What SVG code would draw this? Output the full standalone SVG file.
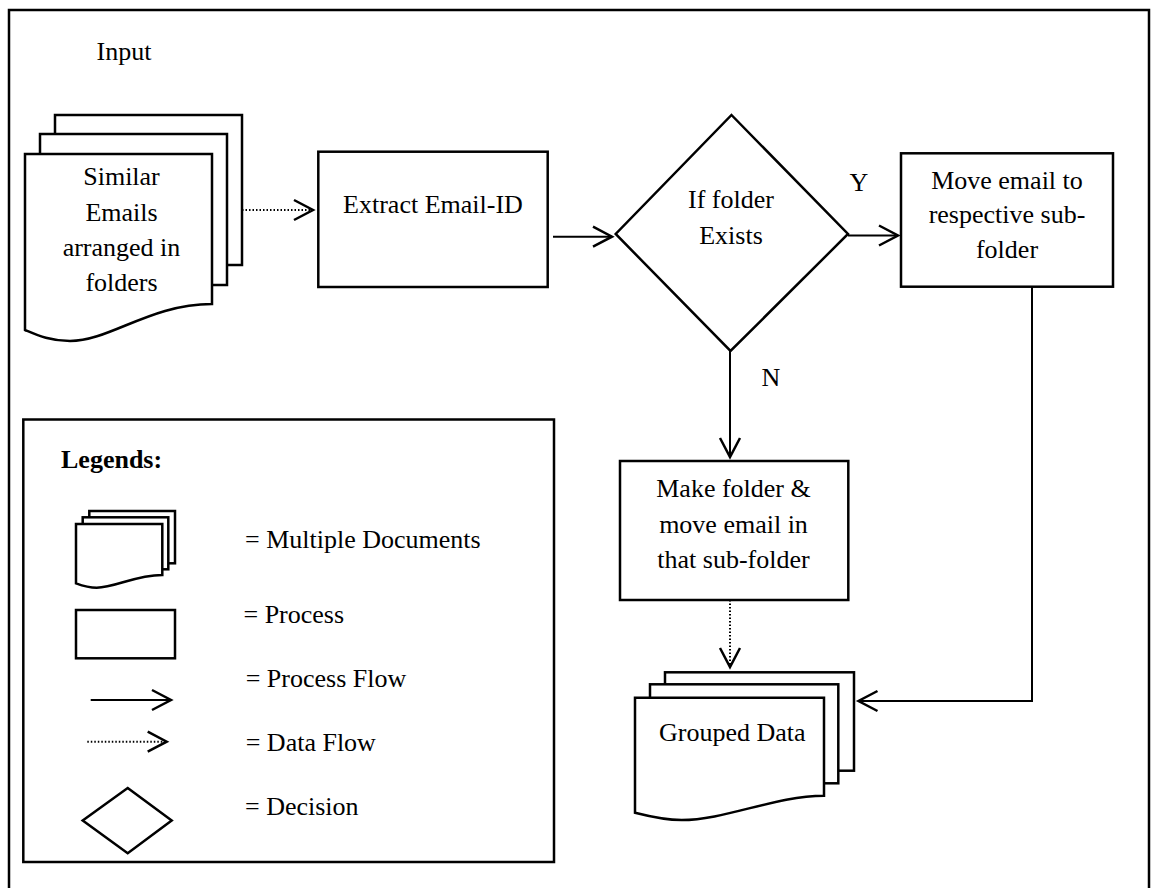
<svg xmlns="http://www.w3.org/2000/svg" width="1151" height="888" viewBox="0 0 1151 888">
  <style>
    .shape { fill: #fff; stroke: #000; stroke-width: 2.5; }
    .flow { fill: none; stroke: #000; stroke-width: 2; }
    .data { fill: none; stroke: #000; stroke-width: 2; stroke-dasharray: 1.5 2; }
    text { font-size: 26px; fill: #000; }
    .mid { text-anchor: middle; }
    .bold { font-weight: bold; }
  </style>
  <defs>
    <marker id="head" markerUnits="userSpaceOnUse" markerWidth="30" markerHeight="30" refX="19" refY="10" orient="auto" overflow="visible">
      <path d="M0,0 L19,10 L0,20" fill="none" stroke="#000" stroke-width="2.5"/>
    </marker>
  </defs>

  <rect width="1151" height="888" fill="#fff"/>
  <!-- page frame -->
  <rect x="9" y="10" width="1140" height="895" fill="none" stroke="#000" stroke-width="2.5"/>

  <g font-family="Liberation Serif, Times New Roman, serif">
  <text x="96.5" y="60">Input</text>

  <!-- input documents stack -->
  <g id="input-docs">
    <rect class="shape" x="55" y="115" width="187" height="150"/>
    <rect class="shape" x="40" y="134" width="187" height="151"/>
    <path class="shape" d="M25,154 H212 V304 C150,304 110,341 70,341 C50,341 37,335 25,330 Z"/>
    <text class="mid" x="121.5" y="185">Similar</text>
    <text class="mid" x="121.5" y="221">Emails</text>
    <text class="mid" x="121.5" y="256">arranged in</text>
    <text class="mid" x="121.5" y="291">folders</text>
  </g>

  <g id="extract">
    <rect class="shape" x="318.3" y="151.7" width="229.4" height="135.3"/>
    <text class="mid" x="433" y="213.3">Extract Email-ID</text>
  </g>

  <g id="decision">
    <polygon class="shape" points="731.5,115 848,234 730.5,351 615.7,234"/>
    <text class="mid" x="731" y="208.3">If folder</text>
    <text class="mid" x="731" y="244.3">Exists</text>
  </g>

  <g id="move">
    <rect class="shape" x="901" y="153.3" width="212" height="133.4"/>
    <text class="mid" x="1007" y="189.3">Move email to</text>
    <text class="mid" x="1007" y="222.7">respective sub-</text>
    <text class="mid" x="1007" y="258.3">folder</text>
  </g>

  <g id="make">
    <rect class="shape" x="620" y="461" width="228.3" height="139"/>
    <text class="mid" x="733.5" y="496.7">Make folder &amp;</text>
    <text class="mid" x="733.5" y="532.7">move email in</text>
    <text class="mid" x="733.5" y="568.3">that sub-folder</text>
  </g>

  <!-- output documents stack -->
  <g id="grouped">
    <rect class="shape" x="665" y="672.3" width="189" height="98.4"/>
    <rect class="shape" x="650" y="684.3" width="188.3" height="99"/>
    <path class="shape" d="M635,697.7 H824 V795.7 C775,796 725,820 681.7,820 C665,820 650,816.5 635,812.7 Z"/>
    <text class="mid" x="732.3" y="740.7">Grouped Data</text>
  </g>

  <g id="labels">
    <text class="mid" x="859" y="191">Y</text>
    <text class="mid" x="771" y="386">N</text>
  </g>

  <g id="connectors">
    <path class="data" d="M242,210 L313,210" marker-end="url(#head)"/>
    <path class="flow" d="M553,236.7 L612,236.7" marker-end="url(#head)"/>
    <path class="flow" d="M848,235.5 L898,235.5" marker-end="url(#head)"/>
    <path class="flow" d="M730,351 L730,457" marker-end="url(#head)"/>
    <path class="data" d="M730,600 L730,667" marker-end="url(#head)"/>
    <path class="flow" d="M1032,287 L1032,701 L858.5,701" marker-end="url(#head)"/>
  </g>

  <!-- legend -->
  <g id="legend">
    <rect class="shape" x="23.3" y="419.5" width="530.7" height="442.5"/>
    <text class="bold" x="61" y="468.3">Legends:</text>

    <rect class="shape" x="89.3" y="511" width="85.7" height="52.3"/>
    <rect class="shape" x="82.7" y="517.3" width="85.6" height="52"/>
    <path class="shape" d="M76,524 H162.3 V575 C135,575 115,587.7 96.7,587.7 C88,587.7 82,585.5 76,583.3 Z"/>
    <text x="245" y="548.3">= Multiple Documents</text>

    <rect class="shape" x="76" y="610" width="99" height="48.3"/>
    <text x="243.5" y="623.3">= Process</text>

    <path class="flow" d="M90.7,700 L171,700" marker-end="url(#head)"/>
    <text x="245.7" y="686.7">= Process Flow</text>

    <path class="data" d="M87.3,741.7 L166.7,741.7" marker-end="url(#head)"/>
    <text x="245.7" y="750.7">= Data Flow</text>

    <polygon class="shape" points="127.7,788 171.7,820.5 127.7,853.3 82.7,820.5"/>
    <text x="245" y="815">= Decision</text>
  </g>
  </g>
</svg>
